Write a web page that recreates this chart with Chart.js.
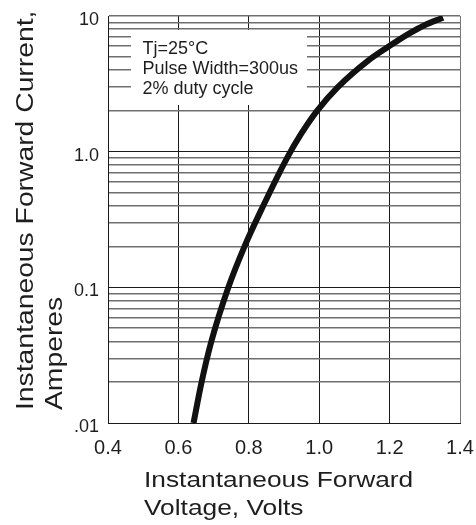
<!DOCTYPE html>
<html><head><meta charset="utf-8">
<script src="https://cdn.jsdelivr.net/npm/chart.js@4/dist/chart.umd.min.js"></script>
<style>html,body{margin:0;padding:0;background:#fff;}#wrap{width:476px;height:525px;position:relative;}</style>
</head><body><div id="wrap"><canvas id="c"></canvas></div>
<script>
// ---- data ----
const voltage = [0.643, 0.665, 0.692, 0.742, 0.787, 0.839, 0.910, 0.949, 0.995, 1.053, 1.140, 1.195, 1.255, 1.298, 1.352];
const current = [0.01, 0.0195, 0.0385, 0.100, 0.198, 0.389, 0.912, 1.357, 2.016, 2.99, 4.71, 5.90, 7.41, 8.52, 9.72];
const xTickValues = [0.4, 0.6, 0.8, 1.0, 1.2, 1.4];
const yGridValues = [0.01,0.02,0.03,0.04,0.05,0.06,0.07,0.08,0.09,
                     0.1,0.2,0.3,0.4,0.5,0.6,0.7,0.8,0.9,
                     1,2,3,4,5,6,7,8,9,10];
const yDecades = [0.01, 0.1, 1, 10];
const yDecadeLabels = ['.01', '0.1', '1.0', '10'];
const noteLines = ['Tj=25°C', 'Pulse Width=300us', '2% duty cycle'];
const xTitleLines = ['Instantaneous Forward', 'Voltage, Volts'];
const yTitleLines = ['Instantaneous Forward Current,', 'Amperes'];

const FONT = '"Liberation Sans", Arial, Helvetica, sans-serif';
const TXT = '#1e1e1e';

function decadeIndex(v) {
  for (let i = 0; i < yDecades.length; i++) {
    if (Math.abs(v - yDecades[i]) / yDecades[i] < 1e-6) return i;
  }
  return -1;
}

const overlay = {
  id: 'overlay',
  beforeDatasetsDraw(chart) {
    const ctx = chart.ctx;
    ctx.save();
    ctx.fillStyle = '#fff';
    ctx.fillRect(131, 30, 176, 75);
    ctx.fillStyle = TXT;
    ctx.font = '18px ' + FONT;
    ctx.textAlign = 'left';
    ctx.textBaseline = 'alphabetic';
    const base = [54, 74, 94];
    noteLines.forEach((t, i) => ctx.fillText(t, 142.5, base[i]));
    ctx.restore();
  },
  afterDraw(chart) {
    const ctx = chart.ctx;
    ctx.save();
    ctx.fillStyle = TXT;
    ctx.textAlign = 'left';
    ctx.textBaseline = 'alphabetic';
    ctx.font = '22.5px ' + FONT;
    const xb = [487.3, 515];
    xTitleLines.forEach((t, i) => {
      ctx.save();
      ctx.translate(144, xb[i]);
      ctx.scale(1.17, 1);
      ctx.fillText(t, 0, 0);
      ctx.restore();
    });
    ctx.font = '23px ' + FONT;
    const yb = [32.5, 61.5];
    yTitleLines.forEach((t, i) => {
      ctx.save();
      ctx.translate(yb[i], 410);
      ctx.rotate(-Math.PI / 2);
      ctx.scale(1.23, 1);
      ctx.fillText(t, 0, 0);
      ctx.restore();
    });
    ctx.restore();
  }
};

new Chart(document.getElementById('c'), {
  type: 'line',
  data: {
    datasets: [{
      data: voltage.map((v, i) => ({ x: v, y: current[i] })),
      borderColor: '#111',
      borderWidth: 6,
      pointRadius: 0,
      fill: false,
      cubicInterpolationMode: 'monotone',
      borderCapStyle: 'butt'
    }]
  },
  options: {
    responsive: true,
    maintainAspectRatio: false,
    animation: false,
    layout: { padding: { top: 16, right: 16, left: 0, bottom: 0 } },
    plugins: { legend: { display: false }, tooltip: { enabled: false }, title: { display: false } },
    scales: {
      x: {
        type: 'linear',
        min: 0.4, max: 1.4,
        afterBuildTicks: s => { s.ticks = xTickValues.map(v => ({ value: v })); },
        afterFit: s => { s.height = 102; s.paddingLeft = 0; s.paddingRight = 0; },
        ticks: {
          autoSkip: false,
          padding: 13,
          color: TXT,
          font: { family: FONT, size: 20 },
          callback: v => Number(v).toFixed(1)
        },
        grid: {
          drawTicks: false,
          color: c => (c.tick && Math.abs(c.tick.value - 1.4) < 1e-6) ? '#777' : '#1a1a1a',
          lineWidth: 1
        },
        border: { display: true, color: '#1a1a1a', width: 1 }
      },
      y: {
        type: 'logarithmic',
        min: 0.01, max: 10,
        afterBuildTicks: s => { s.ticks = yGridValues.map(v => ({ value: v })); },
        afterFit: s => { s.width = 108; s.paddingTop = 0; s.paddingBottom = 0; },
        ticks: {
          autoSkip: false,
          padding: 9,
          labelOffset: 4,
          color: TXT,
          font: { family: FONT, size: 18 },
          callback: v => { const i = decadeIndex(v); return i >= 0 ? yDecadeLabels[i] : ''; }
        },
        grid: {
          drawTicks: false,
          color: c => {
            if (!c.tick) return '#777';
            const i = decadeIndex(c.tick.value);
            return (i >= 0 && i < 3) ? '#1a1a1a' : '#6e6e6e';
          },
          lineWidth: c => {
            if (!c.tick) return 1;
            const i = decadeIndex(c.tick.value);
            return (i >= 0 && i < 3) ? 1 : 1.4;
          }
        },
        border: { display: true, color: '#1a1a1a', width: 1 }
      }
    }
  },
  plugins: [overlay]
});
</script>
</body></html>
